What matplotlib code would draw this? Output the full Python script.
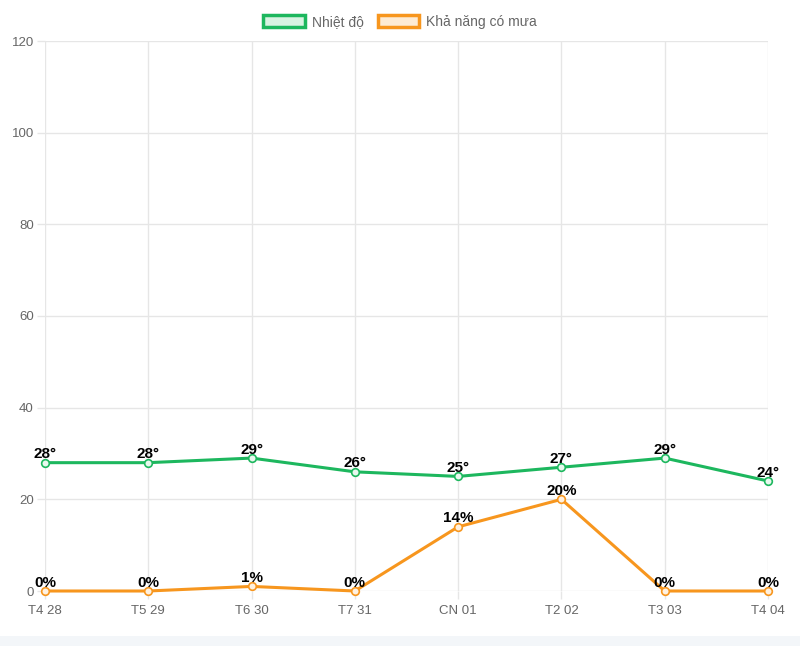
import matplotlib.pyplot as plt
from matplotlib.patches import Patch, Rectangle

days = ["T4 28", "T5 29", "T6 30", "T7 31", "CN 01", "T2 02", "T3 03", "T4 04"]
temp = [28, 28, 29, 26, 25, 27, 29, 24]
rain = [0, 0, 1, 0, 14, 20, 0, 0]

green = "#1db75e"
orange = "#f7961e"
plt.rcParams["font.family"] = ["Liberation Sans", "DejaVu Sans"]

fig = plt.figure(figsize=(8, 6.46), dpi=100)
fig.patches.append(Rectangle((0, 0), 1, 10 / 646, transform=fig.transFigure,
                             facecolor="#f3f6f9", edgecolor="none"))
ax = fig.add_axes([45 / 800, 1 - 591 / 646, 723 / 800, 550 / 646])

x = list(range(len(days)))
ax.plot(x, temp, color=green, lw=2.2, marker="o", ms=5.5, mfc="#e8f8ee",
        mec=green, mew=1.2, zorder=3, clip_on=False)
ax.plot(x, rain, color=orange, lw=2.2, marker="o", ms=5.5, mfc="#fff1e0",
        mec=orange, mew=1.2, zorder=3, clip_on=False)

for xi, t in zip(x, temp):
    ax.annotate(f"{t}°", (xi, t), xytext=(0, 1), textcoords="offset points",
                ha="center", va="bottom", fontsize=11, fontweight="bold",
                color="black", zorder=4)
for xi, r in zip(x, rain):
    ax.annotate(f"{r}%", (xi, r), xytext=(0, 1), textcoords="offset points",
                ha="center", va="bottom", fontsize=11, fontweight="bold",
                color="black", zorder=4)

ax.set_xlim(0, len(days) - 1)
ax.set_ylim(0, 120)
ax.set_yticks(range(0, 121, 20))
ax.set_xticks(x)
ax.set_xticklabels(days)
ax.grid(True, color="#e6e6e6", lw=1)
ax.set_axisbelow(True)
for s in ax.spines.values():
    s.set_visible(False)
ax.tick_params(axis="both", colors="#e6e6e6", labelcolor="#666666",
               labelsize=9.5, length=6, width=1, pad=4)
ax.tick_params(axis="y", pad=2)

handles = [
    Patch(facecolor="#d8f3e2", edgecolor=green, linewidth=2.5, label="Nhiệt độ"),
    Patch(facecolor="#fdebd4", edgecolor=orange, linewidth=2.5, label="Khả năng có mưa"),
]
fig.legend(handles=handles, loc="center", bbox_to_anchor=(0.5, 1 - 22 / 646),
           ncol=2, frameon=False, fontsize=10, labelcolor="#666666",
           handlelength=3.0, handleheight=0.95, columnspacing=1.0, handletextpad=0.5)

plt.savefig("out.png", dpi=100)
